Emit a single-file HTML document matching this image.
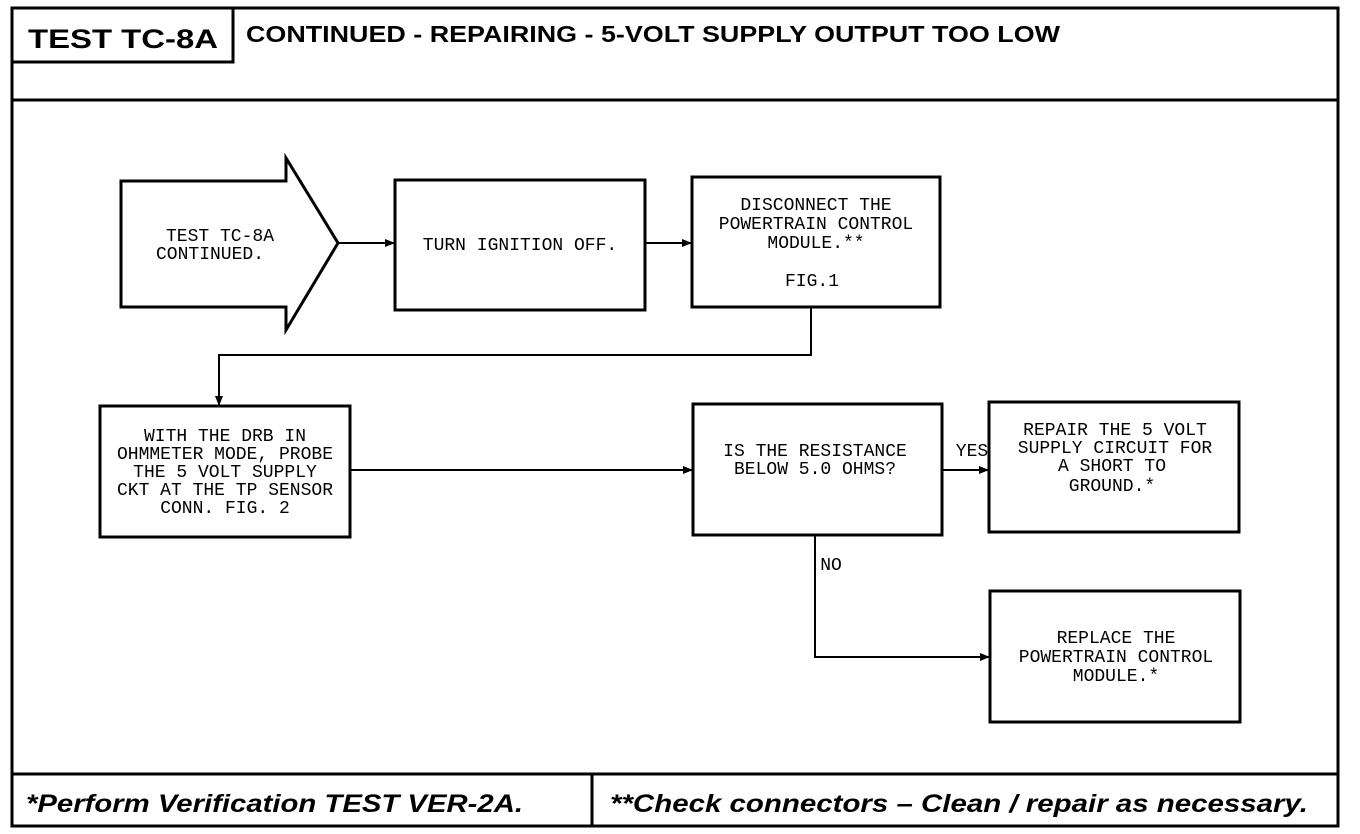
<!DOCTYPE html>
<html><head><meta charset="utf-8"><style>
html,body{margin:0;padding:0;background:#fff;}
svg{display:block;}
.t{font-family:"Liberation Mono",monospace;font-size:18px;fill:#000;text-anchor:middle;}
.h{font-family:"Liberation Sans",sans-serif;font-weight:bold;fill:#000;}
</style></head><body>
<svg width="1360" height="834" viewBox="0 0 1360 834" xmlns="http://www.w3.org/2000/svg">
<defs><marker id="a" markerWidth="10" markerHeight="8" refX="9" refY="4" orient="auto" markerUnits="userSpaceOnUse"><path d="M0,0 L10,4 L0,8 Z" fill="#000"/></marker></defs>
<g fill="none" stroke="#000" stroke-width="3">
<rect x="12" y="8" width="1326" height="818"/>
<line x1="12" y1="100" x2="1338" y2="100"/>
<polyline points="12,62 233,62 233,8"/>
<line x1="12" y1="774" x2="1338" y2="774"/>
<line x1="592" y1="774" x2="592" y2="826"/>
<path d="M121,181 L286,181 L286,158 L338,243 L286,330 L286,307 L121,307 Z"/>
<rect x="395" y="180" width="250" height="130"/>
<rect x="692" y="177" width="248" height="130"/>
<rect x="100" y="406" width="250" height="131"/>
<rect x="693" y="404" width="249" height="131"/>
<rect x="989" y="402" width="250" height="130"/>
<rect x="990" y="591" width="250" height="131"/>
</g>
<g fill="none" stroke="#000" stroke-width="2">
<line x1="338" y1="243" x2="394" y2="243" marker-end="url(#a)"/>
<line x1="645" y1="243" x2="691" y2="243" marker-end="url(#a)"/>
<polyline points="811,307 811,355 219,355 219,405" marker-end="url(#a)"/>
<line x1="350" y1="470" x2="692" y2="470" marker-end="url(#a)"/>
<line x1="942" y1="470" x2="988" y2="470" marker-end="url(#a)"/>
<polyline points="815,535 815,657 989,657" marker-end="url(#a)"/>
</g>
<text class="h" x="28" y="48" font-size="27" textLength="190" lengthAdjust="spacingAndGlyphs">TEST TC-8A</text>
<text class="h" x="246" y="42" font-size="23" textLength="814" lengthAdjust="spacingAndGlyphs">CONTINUED - REPAIRING - 5-VOLT SUPPLY OUTPUT TOO LOW</text>
<text class="h" x="26" y="812" font-size="25" font-style="italic" textLength="497" lengthAdjust="spacingAndGlyphs">*Perform Verification TEST VER-2A.</text>
<text class="h" x="610" y="812" font-size="25" font-style="italic" textLength="698" lengthAdjust="spacingAndGlyphs">**Check connectors – Clean / repair as necessary.</text>
<g class="t">
<text x="220" y="241">TEST TC-8A</text><text x="210" y="259">CONTINUED.</text>
<text x="520" y="250">TURN IGNITION OFF.</text>
<text x="816" y="210">DISCONNECT THE</text><text x="816" y="229">POWERTRAIN CONTROL</text><text x="816" y="248">MODULE.**</text><text x="812" y="286">FIG.1</text>
<text x="225" y="441">WITH THE DRB IN</text><text x="225" y="459">OHMMETER MODE, PROBE</text><text x="225" y="477">THE 5 VOLT SUPPLY</text><text x="225" y="495">CKT AT THE TP SENSOR</text><text x="225" y="513">CONN. FIG. 2</text>
<text x="815" y="456">IS THE RESISTANCE</text><text x="815" y="474">BELOW 5.0 OHMS?</text>
<text x="1115" y="435">REPAIR THE 5 VOLT</text><text x="1115" y="453">SUPPLY CIRCUIT FOR</text><text x="1112" y="471">A SHORT TO</text><text x="1112" y="491">GROUND.*</text>
<text x="1116" y="643">REPLACE THE</text><text x="1116" y="662">POWERTRAIN CONTROL</text><text x="1116" y="681">MODULE.*</text>
<text x="972" y="456">YES</text>
<text x="831" y="570">NO</text>
</g>
</svg>
</body></html>
